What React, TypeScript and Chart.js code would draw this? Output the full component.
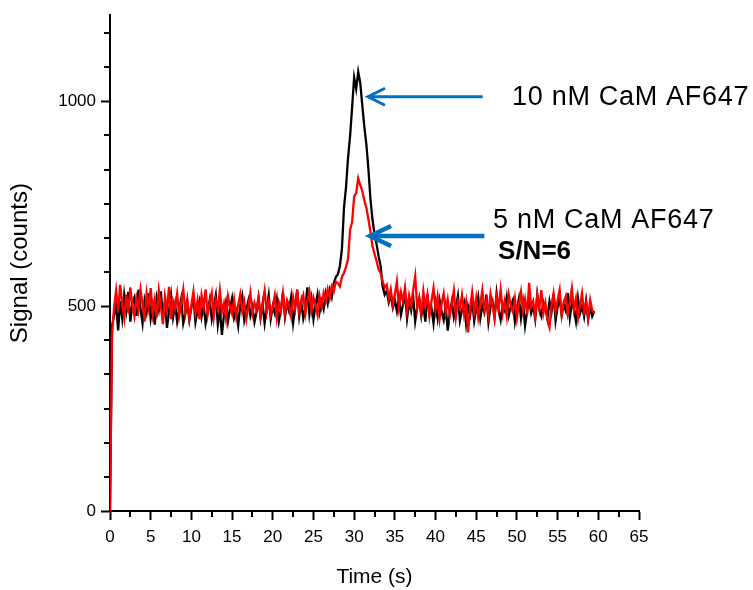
import { useEffect, useRef } from "react";
import { Chart, registerables } from "chart.js";

Chart.register(...registerables);

// Sampling interval of the recorded traces (seconds)
const TIME_STEP_S = 0.25;

// 10 nM CaM AF647 trace (black), one value every 0.25 s from t = 0
const SIGNAL_10NM = [
  0, 452, 478, 503, 441, 512, 470, 528,
  489, 535, 462, 507, 521, 476, 540, 494,
  458, 513, 486, 531, 470, 502, 455, 519,
  492, 536, 468, 510, 447, 488, 527, 473,
  505, 462, 493, 518, 458, 480, 509, 466,
  497, 521, 461, 489, 512, 474, 503, 458,
  486, 515, 469, 498, 526, 455, 492, 430,
  478, 508, 463, 495, 519, 471, 487, 452,
  501, 524, 466, 490, 513, 477, 498, 461,
  485, 520, 472, 505, 458, 494, 527, 469,
  500, 482, 516, 463, 491, 534, 474, 507,
  488, 521, 459, 498, 539, 476, 510, 470,
  494, 546, 481, 517, 468, 502, 529, 485,
  512, 493, 531, 507, 540, 522, 556, 571,
  578, 598, 640, 740, 790, 862, 915, 985,
  1058, 1030, 1072, 1045, 990, 938, 895, 835,
  762, 712, 676, 652, 622, 598, 548, 528,
  538, 509, 527, 496, 515, 488, 521, 479,
  503, 532, 470, 511, 489, 524, 463, 497,
  518, 476, 502, 462, 529, 481, 495, 458,
  507, 471, 514, 486, 466, 499, 440, 483,
  511, 473, 496, 525, 465, 490, 508, 457,
  499, 478, 516, 463, 492, 521, 470, 502,
  485, 528, 461, 497, 512, 474, 531, 489,
  466, 505, 490, 522, 477, 499, 514, 462,
  493, 519, 471, 508, 452, 487, 515, 483,
  501, 468, 527, 492, 476, 510, 495, 470,
  512, 486, 530, 464, 498, 520, 478, 505,
  489, 532, 471, 508, 494, 463, 519, 482,
  500, 474, 513, 468, 497, 475, 488,
];

// 5 nM CaM AF647 trace (red), one value every 0.25 s from t = 0
const SIGNAL_5NM = [
  0, 432, 496, 538, 487, 552, 505, 470,
  528, 483, 546, 502, 475, 519, 490, 541,
  506, 462, 531, 497, 544, 481, 515, 472,
  538, 500, 456, 523, 489, 547, 468, 512,
  494, 530, 476, 508, 541, 485, 517, 471,
  502, 535, 483, 514, 468, 526, 497, 541,
  480, 509, 532, 473, 515, 493, 538, 486,
  507, 470, 524, 498, 481, 516, 475, 503,
  529, 487, 511, 469, 500, 533, 482, 508,
  491, 521, 474, 505, 538, 486, 512, 479,
  498, 526, 471, 509, 489, 531, 480, 515,
  503, 475, 522, 494, 541, 486, 510, 527,
  481, 513, 536, 490, 521, 502, 478, 524,
  498, 532, 512, 541, 519, 548, 536, 560,
  556, 548, 572, 581, 596, 615, 686, 705,
  768, 776, 812, 795, 781, 758, 740, 712,
  682, 646, 628, 610, 590, 581, 560, 545,
  552, 518, 541, 503, 529, 560, 497, 534,
  511, 545, 488, 526, 502, 539, 573, 495,
  520, 481, 537, 499, 528, 476, 512, 544,
  490, 523, 469, 507, 531, 485, 516, 478,
  504, 538, 473, 512, 495, 527, 481, 510,
  436, 498, 534, 486, 520, 472, 505, 539,
  491, 516, 478, 530, 502, 469, 524, 497,
  540, 483, 512, 475, 528, 501, 486, 519,
  471, 506, 535, 490, 517, 480, 557, 498,
  512, 475, 528, 494, 539, 483, 508, 466,
  448, 502, 531, 487, 515, 540, 478, 509,
  524, 482, 510, 544, 491, 518, 470, 503,
  532, 486, 509, 472, 515, 490, 484,
];

// Axis ranges and ticks
const X_RANGE = [0, 65];
const Y_RANGE = [0, 1210];
const X_MAJOR_TICKS = [0, 5, 10, 15, 20, 25, 30, 35, 40, 45, 50, 55, 60, 65];
const X_MINOR_TICKS = [2.5, 7.5, 12.5, 17.5, 22.5, 27.5, 32.5, 37.5, 42.5, 47.5, 52.5, 57.5, 62.5];
const Y_MAJOR_TICKS = [0, 500, 1000];
const Y_MINOR_TICKS = [83.3, 166.7, 250, 333.3, 416.7, 583.3, 666.7, 750, 833.3, 916.7, 1083.3, 1166.7];

// Annotations (data coordinates)
const LABEL_TEXTS = ["10 nM CaM AF647", "5 nM CaM AF647", "S/N=6"];
const LABEL_X = [49.4, 47.06, 47.68];
const LABEL_Y = [1008, 710, 632];
const ARROW_TIP_X = [31.7, 31.95];
const ARROW_TAIL_X = [45.8, 46.0];
const ARROW_Y = [1011, 671];

const FONT_FAMILY = '"Liberation Sans", Arial, sans-serif';
const ARROW_BLUE = "#0070C0";

const overlayPlugin = {
  id: "overlay",
  afterDraw(chart: any) {
    const { ctx, chartArea, scales } = chart;
    const xs = scales.x;
    const ys = scales.y;
    ctx.save();
    // minor ticks
    ctx.strokeStyle = "#000";
    ctx.lineWidth = 2;
    ctx.beginPath();
    X_MINOR_TICKS.forEach((v) => {
      const px = Math.round(xs.getPixelForValue(v));
      ctx.moveTo(px, chartArea.bottom);
      ctx.lineTo(px, chartArea.bottom + 6);
    });
    Y_MINOR_TICKS.forEach((v) => {
      const py = Math.round(ys.getPixelForValue(v));
      ctx.moveTo(chartArea.left, py);
      ctx.lineTo(chartArea.left - 6, py);
    });
    ctx.stroke();

    // arrows
    const arrowStyles = [
      { w: 3, len: 17, half: 8.5 },
      { w: 4.5, len: 21, half: 10 },
    ];
    ARROW_Y.forEach((yv, i) => {
      const st = arrowStyles[i];
      const tipX = xs.getPixelForValue(ARROW_TIP_X[i]);
      const tailX = xs.getPixelForValue(ARROW_TAIL_X[i]);
      const py = ys.getPixelForValue(yv);
      ctx.strokeStyle = ARROW_BLUE;
      ctx.lineWidth = st.w;
      ctx.lineCap = "butt";
      ctx.lineJoin = "miter";
      ctx.beginPath();
      ctx.moveTo(tailX, py);
      ctx.lineTo(tipX + 1, py);
      ctx.stroke();
      ctx.beginPath();
      ctx.moveTo(tipX + st.len, py - st.half);
      ctx.lineTo(tipX, py);
      ctx.lineTo(tipX + st.len, py + st.half);
      ctx.stroke();
    });

    // labels
    ctx.fillStyle = "#000";
    ctx.textAlign = "left";
    ctx.textBaseline = "middle";
    LABEL_TEXTS.forEach((t, i) => {
      ctx.font = i === 2 ? `bold 26px ${FONT_FAMILY}` : `27px ${FONT_FAMILY}`;
      (ctx as any).letterSpacing = i === 2 ? "0px" : "0.7px";
      ctx.fillText(t, xs.getPixelForValue(LABEL_X[i]), ys.getPixelForValue(LABEL_Y[i]));
    });
    (ctx as any).letterSpacing = "0px";
    ctx.restore();
  },
};

export default function App() {
  const canvasRef = useRef<HTMLCanvasElement | null>(null);

  useEffect(() => {
    document.body.style.margin = "0";
    const canvas = canvasRef.current;
    if (!canvas) return;

    const toPoints = (arr: number[]) => arr.map((v, i) => ({ x: i * TIME_STEP_S, y: v }));

    const chart = new Chart(canvas, {
      type: "line",
      data: {
        datasets: [
          {
            label: "10 nM CaM AF647",
            data: toPoints(SIGNAL_10NM),
            borderColor: "#000000",
            borderWidth: 2.3,
            pointRadius: 0,
            tension: 0,
            order: 1,
          },
          {
            label: "5 nM CaM AF647",
            data: toPoints(SIGNAL_5NM),
            borderColor: "#ff0000",
            borderWidth: 2.3,
            pointRadius: 0,
            tension: 0,
            order: 0,
          },
        ],
      },
      options: {
        responsive: false,
        animation: false,
        events: [],
        layout: { padding: { left: 0, right: 114, top: 12, bottom: 0 } },
        plugins: { legend: { display: false }, tooltip: { enabled: false } },
        scales: {
          x: {
            type: "linear",
            min: X_RANGE[0],
            max: X_RANGE[1],
            afterBuildTicks: (s: any) => {
              s.ticks = X_MAJOR_TICKS.map((v) => ({ value: v }));
            },
            afterFit: (s: any) => {
              s.height = 79;
            },
            grid: { drawOnChartArea: false, drawTicks: true, tickLength: 9, tickWidth: 2, tickColor: "#000" },
            border: { display: true, color: "#000", width: 2 },
            ticks: {
              color: "#000",
              font: { family: FONT_FAMILY, size: 17 },
              padding: 7,
              maxRotation: 0,
              autoSkip: false,
              callback: (v: any) => String(v),
            },
            title: {
              display: true,
              text: "Time (s)",
              color: "#000",
              font: { family: FONT_FAMILY, size: 21 },
              padding: { top: 0, bottom: 0 },
            },
          },
          y: {
            type: "linear",
            min: Y_RANGE[0],
            max: Y_RANGE[1],
            afterBuildTicks: (s: any) => {
              s.ticks = Y_MAJOR_TICKS.map((v) => ({ value: v }));
            },
            afterFit: (s: any) => {
              s.width = 110;
            },
            grid: { drawOnChartArea: false, drawTicks: true, tickLength: 9, tickWidth: 2, tickColor: "#000" },
            border: { display: true, color: "#000", width: 2 },
            ticks: {
              color: "#000",
              font: { family: FONT_FAMILY, size: 17 },
              padding: 5,
              autoSkip: false,
              callback: (v: any) => String(v),
            },
            title: {
              display: true,
              text: "Signal (counts)",
              color: "#000",
              font: { family: FONT_FAMILY, size: 24 },
              padding: { top: 6, bottom: 0 },
            },
          },
        },
      },
      plugins: [overlayPlugin],
    });

    return () => chart.destroy();
  }, []);

  return (
    <div style={{ width: 753, height: 590 }}>
      <canvas ref={canvasRef} width={753} height={590} style={{ display: "block" }} />
    </div>
  );
}
